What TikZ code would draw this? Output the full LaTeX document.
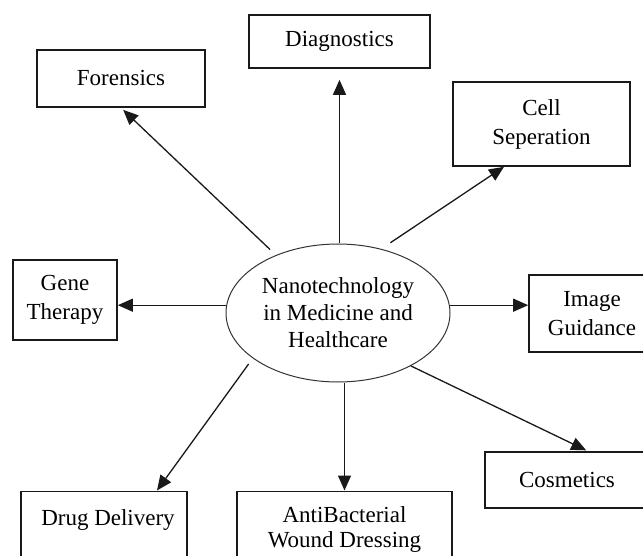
\documentclass[tikz,border=0pt]{standalone}
\usepackage{fontspec}
\setmainfont{Liberation Serif}
\usetikzlibrary{arrows.meta,shapes.geometric}

\begin{document}
\begin{tikzpicture}[x=1pt, y=-1pt,
    box/.style={draw=black!90, line width=1.6pt, inner sep=0pt, align=center, font=\fontsize{23}{29}\selectfont},
    boxtext/.style={anchor=north, inner sep=0pt, align=center, font=\fontsize{23}{25}\selectfont},
    hub/.style={ellipse, draw=black!80, line width=1pt, inner sep=0pt, minimum width=224pt, minimum height=138pt, align=center, font=\fontsize{23}{27}\selectfont},
    link/.style={-{Triangle[length=15pt,width=13pt]}, line width=1.3pt, black!90}]
    \useasboundingbox (0,0) rectangle (643,556);
    \clip (0,0) rectangle (643,556);
    % --- Centre ---
    \node[hub] (nano) at (338,313) {Nanotechnology\\in Medicine and\\Healthcare};
    % --- Boxes ---
    \node[box, minimum width=168pt, minimum height=57pt] (foren) at (121,78.5) {Forensics};
    \node[box, minimum width=181pt, minimum height=53pt] (diag) at (339.5,41.5) {Diagnostics};
    \node[box, minimum width=177pt, minimum height=84pt] (cell) at (541.5,124) {Cell\\Seperation};
    \node[box, minimum width=104pt, minimum height=80pt] (gene) at (65,300) {Gene\\Therapy};
    \node[box, minimum width=126pt, minimum height=77pt] (img) at (592,313.5) {Image\\Guidance};
    \node[box, minimum width=164pt, minimum height=56pt] (cosm) at (567,480) {Cosmetics};
    \node[box, anchor=north, minimum width=166pt, minimum height=100pt,
        label={[boxtext, xshift=4pt, yshift=-18.5pt]north:Drug Delivery}] (drug) at (104,490.5) {};
    \node[box, anchor=north, minimum width=215pt, minimum height=100pt,
        label={[boxtext, yshift=-16pt]north:{AntiBacterial\\Wound Dressing}}] (ab) at (344.5,490.5) {};
    % --- Arrows ---
    \draw[link, shorten <=8pt, shorten >=3pt] (nano.137) -- (foren.south);
    \draw[link, shorten >=11pt] (diag.south |- nano.north) -- (diag.south);
    \draw[link, shorten <=11pt] (nano.56) -- ([xshift=-37.5pt]cell.south);
    \draw[link] (nano.176) -- (nano.176 -| gene.east);
    \draw[link] (nano.4) -- (nano.4 -| img.west);
    \draw[link, shorten <=7pt] (nano.208) -- ([xshift=53pt]drug.north);
    \draw[link] (ab.north |- nano.south) -- (ab.north);
    \draw[link, shorten >=2pt] (nano.-36) -- ([xshift=21pt]cosm.north);
\end{tikzpicture}
\end{document}
